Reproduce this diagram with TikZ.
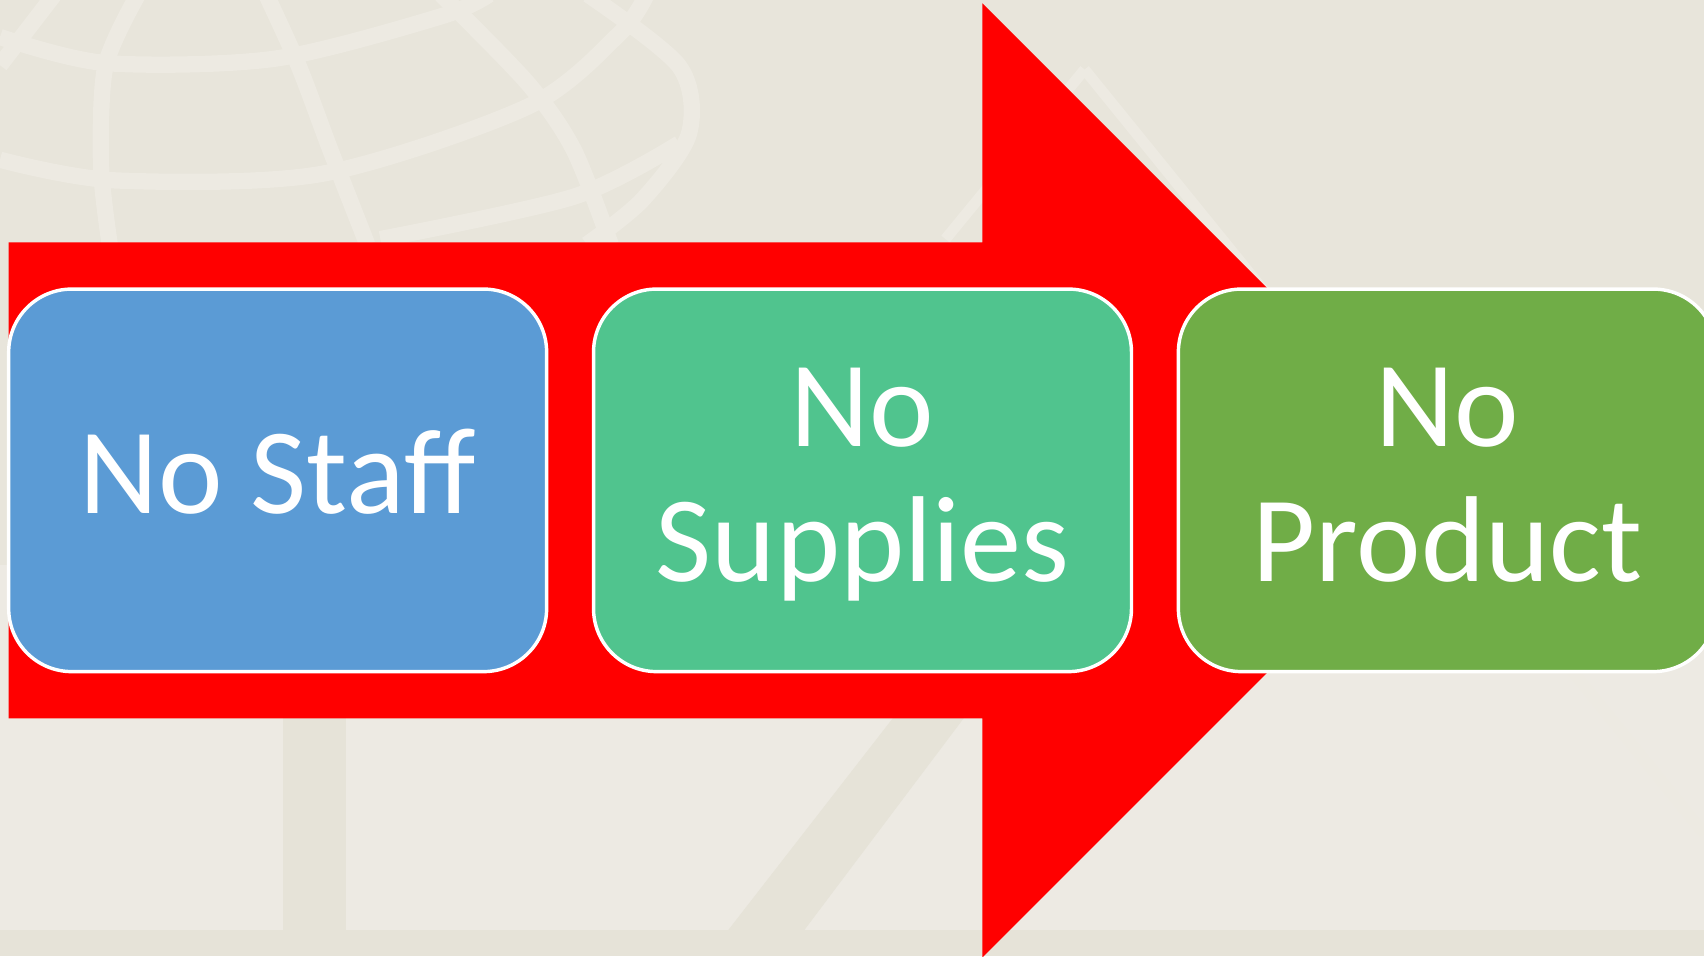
\documentclass[tikz,border=0pt]{standalone}
\usepackage{fontspec}
\setmainfont{Carlito}
\usetikzlibrary{positioning}
\definecolor{slidebg}{HTML}{E8E5DB}
\definecolor{slidelow}{HTML}{EDEAE3}
\definecolor{slidemark}{HTML}{EDEAE2}
\definecolor{slidedark}{HTML}{E6E3D8}
\definecolor{flowred}{HTML}{FF0000}
\definecolor{lackblue}{HTML}{5B9BD5}
\definecolor{lackteal}{HTML}{50C48E}
\definecolor{lackgreen}{HTML}{70AD47}
\newcommand{\capline}{\rule{0pt}{28pt}}
\tikzset{lack box/.style={draw=white, line width=0.9pt, rounded corners=0.58cm, minimum width=4.95cm, minimum height=3.52cm, align=center, text=white, inner sep=2pt, font=\fontsize{32}{35.3}\selectfont, execute at end node=\rule[-10.4pt]{0pt}{10.4pt}}}
\tikzset{globe line/.style={draw=slidemark, line width=0.15cm}}

\begin{document}
\begin{tikzpicture}[x=1cm,y=1cm]
	\clip (0,0) rectangle (15.68,8.80);
	\useasboundingbox (0,0) rectangle (15.68,8.80);

	% backdrop and faint watermark
	\fill[slidebg] (0,0) rectangle (15.68,8.80);
	\fill[slidelow] (0,0.2) rectangle (15.68,3.6);
	\fill[slidedark] (0,0) rectangle (15.68,0.24);
	\fill[slidedark] (2.60,0.24) rectangle (3.18,2.3);
	\fill[slidedark] (6.70,0.24) -- (7.40,0.24) -- (8.95,2.3) -- (8.30,2.3) -- cycle;
	\draw[globe line] plot[smooth] coordinates {(0,8.46) (0.97,8.22) (2.53,8.26) (4.06,8.65) (4.5,8.85)};
	\draw[globe line] plot[smooth] coordinates {(0,7.33) (1.06,7.14) (2.96,7.20) (4.86,7.82) (5.70,8.49) (5.95,8.85)};
	\draw[globe line] plot[smooth] coordinates {(3.5,6.60) (5.28,6.99) (6.25,7.48)};
	\draw[globe line] plot[smooth] coordinates {(1.27,8.85) (0.97,8.19) (0.93,7.27) (1.01,6.55)};
	\draw[globe line] plot[smooth] coordinates {(2.45,8.85) (2.75,8.19) (3.04,7.42) (3.38,6.55)};
	\draw[globe line] plot[smooth] coordinates {(4.06,8.85) (4.86,8.03) (5.28,7.42) (5.62,6.55)};
	\draw[globe line] plot[smooth] coordinates {(5.41,8.85) (6.25,8.19) (6.34,7.57) (5.91,6.96) (5.40,6.55)};
	\draw[globe line] (0,8.2) -- (0.5,8.85);
	\draw[globe line, line width=0.1cm] (9.98,8.16) -- (15.68,1.13);
	\draw[globe line, line width=0.1cm] (9.98,8.16) -- (8.70,6.60);

	% big flow arrow
	\coordinate (tail top) at (0.08,6.57);
	\coordinate (tail bot) at (0.08,2.19);
	\coordinate (neck top) at (9.04,6.57);
	\coordinate (neck bot) at (9.04,2.19);
	\coordinate (barb top) at (9.04,8.77);
	\coordinate (barb bot) at (9.04,-0.01);
	\coordinate (tip) at (13.43,4.38);
	\fill[flowred] (tail top) -- (neck top) -- (barb top) -- (tip) -- (barb bot) -- (neck bot) -- (tail bot) -- cycle;

	% the three boxes
	\node[lack box, fill=lackblue] (staff) at (2.555,4.38) {\capline No Staff};
	\node[lack box, fill=lackteal, right=0.40cm of staff] (supplies) {\capline No\\Supplies};
	\node[lack box, fill=lackgreen, right=0.40cm of supplies] (product) {\capline No\\Product};
\end{tikzpicture}
\end{document}
